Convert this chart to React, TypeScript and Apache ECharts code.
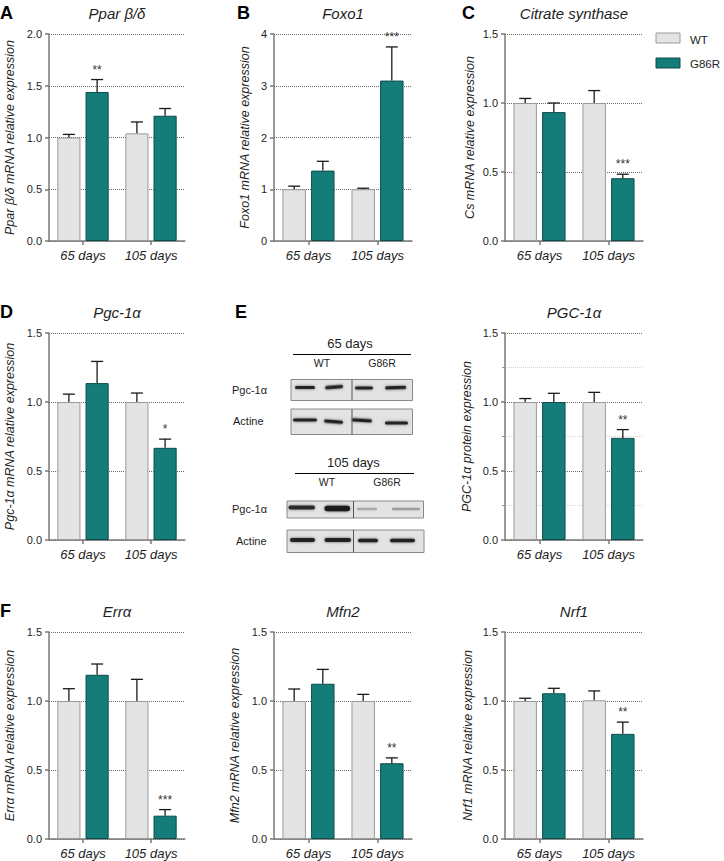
import React, { useEffect, useRef } from 'react';
import * as echarts from 'echarts';

// ---------- data ----------
const categories = ['65 days', '105 days'];
const groupNames = ['WT', 'G86R'];

const pparWT = [1.0, 1.04];
const pparWTErr = [0.03, 0.11];
const pparG86R = [1.44, 1.21];
const pparG86RErr = [0.12, 0.07];
const pparSig = ['**', ''];

const foxo1WT = [1.0, 1.0];
const foxo1WTErr = [0.06, 0.02];
const foxo1G86R = [1.36, 3.1];
const foxo1G86RErr = [0.18, 0.65];
const foxo1Sig = ['', '***'];

const csWT = [1.0, 1.0];
const csWTErr = [0.033, 0.09];
const csG86R = [0.934, 0.455];
const csG86RErr = [0.066, 0.029];
const csSig = ['', '***'];

const pgcWT = [1.0, 1.0];
const pgcWTErr = [0.057, 0.065];
const pgcG86R = [1.137, 0.668];
const pgcG86RErr = [0.157, 0.063];
const pgcSig = ['', '*'];

const pgcProtWT = [1.0, 1.0];
const pgcProtWTErr = [0.025, 0.07];
const pgcProtG86R = [1.0, 0.74];
const pgcProtG86RErr = [0.063, 0.06];
const pgcProtSig = ['', '**'];

const erraWT = [1.0, 1.0];
const erraWTErr = [0.089, 0.157];
const erraG86R = [1.19, 0.169];
const erraG86RErr = [0.078, 0.044];
const erraSig = ['', '***'];

const mfn2WT = [1.0, 1.0];
const mfn2WTErr = [0.087, 0.048];
const mfn2G86R = [1.125, 0.549];
const mfn2G86RErr = [0.104, 0.039];
const mfn2Sig = ['', '**'];

const nrf1WT = [1.0, 1.005];
const nrf1WTErr = [0.02, 0.068];
const nrf1G86R = [1.056, 0.762];
const nrf1G86RErr = [0.036, 0.085];
const nrf1Sig = ['', '**'];

// ---------- styling ----------
const FONT = '"Liberation Sans", Arial, Helvetica, sans-serif';
const WT_FILL = '#e4e4e4';
const WT_BORDER = '#9a9a9a';
const MUT_FILL = '#147d79';
const MUT_BORDER = '#0d4e4c';
const AXIS = '#7a7a7a';
const TXT = '#1e1e1e';
const BAR_FRAC = 0.34;
const GAP_FRAC = 0.22;

type Panel = {
  letter: string;
  letterX: number;
  title: string;
  yName: string;
  wt: number[];
  wtErr: number[];
  mut: number[];
  mutErr: number[];
  sig: string[];
  max: number;
  interval: number;
  decimals: number;
  grid: { left: number; top: number; width: number; height: number };
  nameGap: number;
  minor?: boolean;
};

const panels: Panel[] = [
  { letter: 'A', letterX: 0, title: 'Ppar β/δ', yName: 'Ppar β/δ mRNA relative expression', wt: pparWT, wtErr: pparWTErr, mut: pparG86R, mutErr: pparG86RErr, sig: pparSig, max: 2, interval: 0.5, decimals: 1, grid: { left: 49, top: 34, width: 136, height: 207 }, nameGap: 33 },
  { letter: 'B', letterX: 237, title: 'Foxo1', yName: 'Foxo1 mRNA relative expression', wt: foxo1WT, wtErr: foxo1WTErr, mut: foxo1G86R, mutErr: foxo1G86RErr, sig: foxo1Sig, max: 4, interval: 1, decimals: 0, grid: { left: 274, top: 34, width: 138, height: 207 }, nameGap: 23 },
  { letter: 'C', letterX: 462, title: 'Citrate synthase', yName: 'Cs mRNA relative expression', wt: csWT, wtErr: csWTErr, mut: csG86R, mutErr: csG86RErr, sig: csSig, max: 1.5, interval: 0.5, decimals: 1, grid: { left: 505, top: 34, width: 138, height: 207 }, nameGap: 29 },
  { letter: 'D', letterX: 0, title: 'Pgc-1α', yName: 'Pgc-1α mRNA relative expression', wt: pgcWT, wtErr: pgcWTErr, mut: pgcG86R, mutErr: pgcG86RErr, sig: pgcSig, max: 1.5, interval: 0.5, decimals: 1, grid: { left: 49, top: 333, width: 136, height: 207 }, nameGap: 33 },
  { letter: '', letterX: 0, title: 'PGC-1α', yName: 'PGC-1α protein expression', wt: pgcProtWT, wtErr: pgcProtWTErr, mut: pgcProtG86R, mutErr: pgcProtG86RErr, sig: pgcProtSig, max: 1.5, interval: 0.5, decimals: 1, grid: { left: 505, top: 333, width: 138, height: 207 }, nameGap: 32, minor: true },
  { letter: 'F', letterX: 0, title: 'Errα', yName: 'Errα mRNA relative expression', wt: erraWT, wtErr: erraWTErr, mut: erraG86R, mutErr: erraG86RErr, sig: erraSig, max: 1.5, interval: 0.5, decimals: 1, grid: { left: 49, top: 632, width: 136, height: 207 }, nameGap: 33 },
  { letter: '', letterX: 0, title: 'Mfn2', yName: 'Mfn2 mRNA relative expression', wt: mfn2WT, wtErr: mfn2WTErr, mut: mfn2G86R, mutErr: mfn2G86RErr, sig: mfn2Sig, max: 1.5, interval: 0.5, decimals: 1, grid: { left: 274, top: 632, width: 138, height: 207 }, nameGap: 33 },
  { letter: '', letterX: 0, title: 'Nrf1', yName: 'Nrf1 mRNA relative expression', wt: nrf1WT, wtErr: nrf1WTErr, mut: nrf1G86R, mutErr: nrf1G86RErr, sig: nrf1Sig, max: 1.5, interval: 0.5, decimals: 1, grid: { left: 505, top: 632, width: 138, height: 207 }, nameGap: 31 },
];

function errSeries(idx: number, values: number[], errs: number[], sigs: string[], side: number) {
  return {
    type: 'custom',
    xAxisIndex: idx,
    yAxisIndex: idx,
    z: 5,
    silent: true,
    clip: false,
    data: values.map((v, j) => [j, v, errs[j]]),
    encode: { x: 0, y: 1 },
    renderItem: (params: any, api: any) => {
      const ci = api.value(0);
      const v = api.value(1);
      const e = api.value(2);
      const base = api.coord([ci, v]);
      const top = api.coord([ci, v + e]);
      const band = api.size([1, 0])[0];
      const bw = band * BAR_FRAC;
      const x = base[0] + (side * (bw + bw * GAP_FRAC)) / 2;
      const children: any[] = [
        { type: 'line', shape: { x1: x, y1: base[1], x2: x, y2: top[1] }, style: { stroke: '#1a1a1a', lineWidth: 1.3 } },
        { type: 'line', shape: { x1: x - 6, y1: top[1], x2: x + 6, y2: top[1] }, style: { stroke: '#1a1a1a', lineWidth: 1.3 } },
      ];
      const s = sigs[params.dataIndex];
      if (s) {
        children.push({
          type: 'text',
          style: { text: s, x, y: top[1] - 4, align: 'center', verticalAlign: 'bottom', font: `12px ${FONT}`, fill: '#333' },
        });
      }
      return { type: 'group', children };
    },
  };
}

function band(x1: number, x2: number, y: number, h: number, opacity: number, rot = 0) {
  return {
    type: 'rect',
    shape: { x: x1, y: y - h / 2, width: x2 - x1, height: h, r: h / 2 },
    originX: (x1 + x2) / 2,
    originY: y,
    rotation: rot,
    style: { fill: `rgba(20,20,20,${opacity})`, shadowBlur: 3, shadowColor: `rgba(0,0,0,${opacity * 0.7})` },
    z: 12,
  };
}

function blotBox(x1: number, x2: number, y1: number, y2: number, divX: number) {
  return [
    { type: 'rect', shape: { x: x1, y: y1, width: x2 - x1, height: y2 - y1 }, style: { fill: '#e3e3e3', stroke: '#8a8a8a', lineWidth: 1 }, z: 10 },
    { type: 'line', shape: { x1: divX, y1: y1, x2: divX, y2: y2 }, style: { stroke: '#555', lineWidth: 1 }, z: 13 },
  ];
}

function txt(text: string, x: number, y: number, size: number, opts: any = {}) {
  return {
    type: 'text',
    z: 20,
    style: {
      text,
      x,
      y,
      align: opts.align || 'center',
      verticalAlign: 'middle',
      font: `${opts.style || 'normal'} ${opts.weight || 'normal'} ${size}px ${FONT}`,
      fill: opts.fill || TXT,
    },
  };
}

function buildOption() {
  const grid: any[] = [];
  const xAxis: any[] = [];
  const yAxis: any[] = [];
  const series: any[] = [];
  const graphic: any[] = [];

  panels.forEach((p, i) => {
    grid.push({ ...p.grid, containLabel: false });
    xAxis.push({
      type: 'category',
      gridIndex: i,
      data: categories,
      boundaryGap: true,
      axisLine: { show: true, lineStyle: { color: AXIS, width: 1.5 } },
      axisTick: { show: true, alignWithLabel: true, length: 4, lineStyle: { color: AXIS, width: 1.5 } },
      axisLabel: { interval: 0, hideOverlap: false, fontFamily: FONT, fontStyle: 'italic', fontSize: 13, color: TXT, margin: 8 },
      splitLine: { show: false },
    });
    yAxis.push({
      type: 'value',
      gridIndex: i,
      min: 0,
      max: p.max,
      interval: p.interval,
      name: p.yName,
      nameLocation: 'middle',
      nameRotate: 90,
      nameGap: p.nameGap,
      nameTextStyle: { fontFamily: FONT, fontStyle: 'italic', fontSize: 12.5, color: TXT },
      axisLine: { show: true, lineStyle: { color: AXIS, width: 1.5 } },
      axisTick: { show: true, length: 4, lineStyle: { color: AXIS, width: 1.5 } },
      axisLabel: { fontFamily: FONT, fontSize: 11, color: TXT, margin: 7, formatter: (v: number) => v.toFixed(p.decimals) },
      splitLine: { show: true, lineStyle: { color: '#6a6a6a', type: 'dotted', width: 1 } },
      minorTick: p.minor ? { show: true, splitNumber: 2, length: 3, lineStyle: { color: '#999' } } : { show: false },
      minorSplitLine: p.minor ? { show: true, lineStyle: { color: '#d4d4d4', type: 'dotted', width: 1 } } : { show: false },
    });
    series.push({
      type: 'bar',
      name: groupNames[0],
      xAxisIndex: i,
      yAxisIndex: i,
      data: p.wt,
      barWidth: `${BAR_FRAC * 100}%`,
      barGap: `${GAP_FRAC * 100}%`,
      itemStyle: { color: WT_FILL, borderColor: WT_BORDER, borderWidth: 1 },
      silent: true,
    });
    series.push({
      type: 'bar',
      name: groupNames[1],
      xAxisIndex: i,
      yAxisIndex: i,
      data: p.mut,
      barWidth: `${BAR_FRAC * 100}%`,
      barGap: `${GAP_FRAC * 100}%`,
      itemStyle: { color: MUT_FILL, borderColor: MUT_BORDER, borderWidth: 1 },
      silent: true,
    });
    series.push(errSeries(i, p.wt, p.wtErr, ['', ''], -1));
    series.push(errSeries(i, p.mut, p.mutErr, p.sig, 1));

    const cx = p.grid.left + p.grid.width / 2;
    const ty = p.grid.top - 21;
    graphic.push(txt(p.title, cx, ty, 15, { style: 'italic' }));
    if (p.letter) graphic.push(txt(p.letter, p.letterX, ty, 18, { weight: 'bold', align: 'left', fill: '#000' }));
  });

  // panel E letter
  graphic.push(txt('E', 235, 312, 18, { weight: 'bold', align: 'left', fill: '#000' }));

  // legend
  graphic.push({ type: 'rect', shape: { x: 656, y: 33, width: 24, height: 10 }, style: { fill: WT_FILL, stroke: WT_BORDER, lineWidth: 1 }, z: 20 });
  graphic.push(txt(groupNames[0], 690, 39.5, 11.5, { align: 'left' }));
  graphic.push({ type: 'rect', shape: { x: 656, y: 58, width: 24, height: 10 }, style: { fill: MUT_FILL, stroke: MUT_BORDER, lineWidth: 1 }, z: 20 });
  graphic.push(txt(groupNames[1], 690, 63.5, 11.5, { align: 'left' }));

  // western blot, 65 days
  graphic.push(txt('65 days', 350, 343, 13));
  graphic.push({ type: 'line', shape: { x1: 293, y1: 354.5, x2: 411, y2: 354.5 }, style: { stroke: '#000', lineWidth: 1.2 }, z: 20 });
  graphic.push(txt('WT', 322, 362.5, 10.5));
  graphic.push(txt('G86R', 382, 362.5, 10.5));
  graphic.push(txt('Pgc-1α', 232, 390, 11, { align: 'left' }));
  graphic.push(txt('Actine', 233, 421, 11, { align: 'left' }));
  graphic.push(...blotBox(291, 412.5, 379.5, 400.5, 352));
  graphic.push(band(295, 315, 387.5, 3.2, 0.9));
  graphic.push(band(325, 343, 387, 3.2, 0.9, 0.08));
  graphic.push(band(355, 373, 388, 3.2, 0.9));
  graphic.push(band(385, 406, 387.5, 3.2, 0.9, 0.03));
  graphic.push(...blotBox(291, 412.5, 409, 434.5, 352));
  graphic.push(band(293, 317, 420, 3.2, 0.9));
  graphic.push(band(324, 343, 421.5, 3.2, 0.9, -0.08));
  graphic.push(band(352, 372, 420.5, 3.2, 0.9, -0.06));
  graphic.push(band(385, 408, 423, 3.2, 0.9));

  // western blot, 105 days
  graphic.push(txt('105 days', 353.5, 462.5, 13));
  graphic.push({ type: 'line', shape: { x1: 295, y1: 473.5, x2: 414, y2: 473.5 }, style: { stroke: '#000', lineWidth: 1.2 }, z: 20 });
  graphic.push(txt('WT', 327, 482, 10.5));
  graphic.push(txt('G86R', 387, 482, 10.5));
  graphic.push(txt('Pgc-1α', 232, 509, 11, { align: 'left' }));
  graphic.push(txt('Actine', 236, 541, 11, { align: 'left' }));
  graphic.push(...blotBox(287, 423.5, 501, 518, 353.5));
  graphic.push(band(288.5, 315, 507.5, 3.8, 0.85));
  graphic.push(band(324.5, 350, 508.5, 5.5, 0.95));
  graphic.push(band(357, 377, 509, 2.4, 0.28));
  graphic.push(band(392, 420, 509, 2.4, 0.32));
  graphic.push(...blotBox(287, 424, 530, 552.5, 353.5));
  graphic.push(band(290, 315, 540, 4.2, 0.9));
  graphic.push(band(324.5, 351, 540, 4.2, 0.9));
  graphic.push(band(358, 378, 540.5, 3.5, 0.9));
  graphic.push(band(390, 415, 540.5, 3.5, 0.9));

  return {
    animation: false,
    backgroundColor: '#ffffff',
    textStyle: { fontFamily: FONT },
    grid,
    xAxis,
    yAxis,
    series,
    graphic,
  };
}

export default function App() {
  const ref = useRef<HTMLDivElement>(null);
  useEffect(() => {
    if (!ref.current) return;
    const chart = echarts.init(ref.current, undefined, { renderer: 'svg' });
    chart.setOption(buildOption() as any);
    return () => chart.dispose();
  }, []);
  return (
    <div
      ref={ref}
      style={{ position: 'absolute', left: 0, top: 0, width: 724, height: 861, background: '#fff' }}
    />
  );
}
